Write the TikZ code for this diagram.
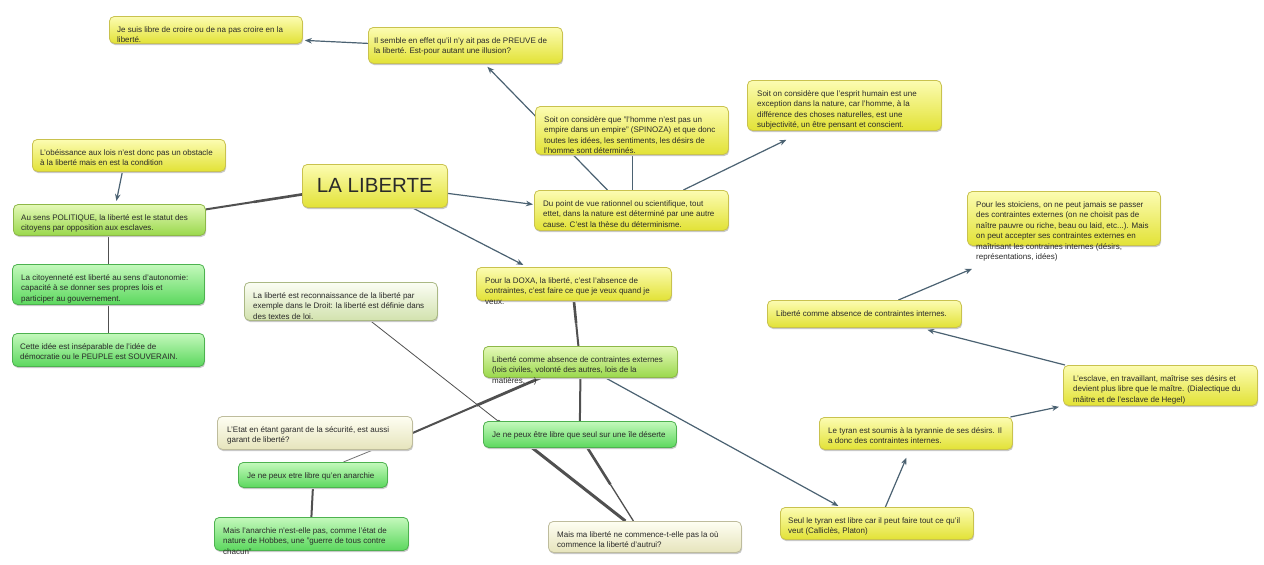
\documentclass[tikz,border=0pt]{standalone}
\usepackage{fontspec}
\setmainfont{Liberation Sans}
\usetikzlibrary{calc,arrows.meta,shadows}
\pgfdeclarelayer{bg}
\pgfsetlayers{bg,main}
\definecolor{yelT}{HTML}{FCFCB2}
\definecolor{yelBot}{HTML}{E2E236}
\definecolor{yelD}{HTML}{C9C24E}
\definecolor{gaT}{HTML}{E4F9B8}
\definecolor{gaBot}{HTML}{9AD84C}
\definecolor{gaD}{HTML}{8DB848}
\definecolor{gbT}{HTML}{C4F9BC}
\definecolor{gbBot}{HTML}{5CD85E}
\definecolor{gbD}{HTML}{4DB24F}
\definecolor{pgT}{HTML}{FBFDF4}
\definecolor{pgBot}{HTML}{D2E2AE}
\definecolor{pgD}{HTML}{AAB884}
\definecolor{crT}{HTML}{FEFEF2}
\definecolor{crBot}{HTML}{E6E4BC}
\definecolor{crD}{HTML}{BEBC9C}
\definecolor{arrC}{HTML}{4B6272}
\definecolor{lnC}{HTML}{505050}
\definecolor{txC}{HTML}{2A2A2A}
\definecolor{shC}{HTML}{C8C8C8}
\tikzset{
  box/.style={rounded corners=5pt, line width=0.8pt, inner sep=0pt,
    drop shadow={fill=shC, opacity=1, shadow xshift=0.8pt, shadow yshift=-1.6pt}},
  yel/.style={box, draw=yelD, top color=yelT, bottom color=yelBot},
  grA/.style={box, draw=gaD, top color=gaT, bottom color=gaBot},
  grB/.style={box, draw=gbD, top color=gbT, bottom color=gbBot},
  pgr/.style={box, draw=pgD, top color=pgT, bottom color=pgBot},
  crm/.style={box, draw=crD, top color=crT, bottom color=crBot},
  txt/.style={inner sep=0pt, align=left, text=txC, font=\fontsize{8}{10.5}\selectfont},
  arr/.style={draw=arrC, line width=1.2pt, -{Stealth[length=7pt,width=5.5pt]}},
  lnk/.style={draw=lnC, line width=1.6pt},
}
\newcommand\bx[8]{%
  \node[#2, minimum width={#5-#3}, minimum height={#6-#4}, anchor=north west] (#1) at (#3,#4) {};
  \node[txt, anchor=north west] at ([xshift=#7pt,yshift=-8.65pt]#1.north west) {\strut #8};
}
% connector thicker on the half near #1, thinner on the half near #2
\newcommand\taper[4]{%
  \coordinate (ta) at (#1);
  \coordinate (tb) at (#2);
  \coordinate (tm) at ($(ta)!0.5!(tb)$);
  \draw[lnC, line width=#4] (tm) -- (tb);
  \draw[lnC, line width=#3] (ta) -- (tm);
}
\begin{document}
\begin{tikzpicture}[x=1pt,y=-1pt]
\useasboundingbox (0,0) rectangle (1264,565);
\begin{pgfonlayer}{bg}
\fill[white] (0,0) rectangle (1264,565);
\end{pgfonlayer}

\bx{b1}{yel}{109}{16}{302}{43}{8}{Je suis libre de croire ou de na pas croire en la\\liberté.}
\bx{b2}{yel}{368}{27}{562}{63}{6}{Il semble en effet qu'il n'y ait pas de PREUVE de\\la liberté. Est-pour autant une illusion?}
\bx{b3}{yel}{535}{106}{728}{154}{9}{Soit on considère que "l'homme n'est pas un\\empire dans un empire" (SPINOZA) et que donc\\toutes les idées, les sentiments, les désirs de\\l'homme sont déterminés.}
\bx{b4}{yel}{747}{80}{941}{130}{10}{Soit on considère que l'esprit humain est une\\exception dans la nature, car l'homme, à la\\différence des choses naturelles, est une\\subjectivité, un être pensant et conscient.}
\bx{b5}{yel}{32}{139}{225}{171}{8}{L'obéissance aux lois n'est donc pas un obstacle\\à la liberté mais en est la condition}
\bx{b6}{grA}{13}{204}{205}{235}{8}{Au sens POLITIQUE, la liberté est le statut des\\citoyens par opposition aux esclaves.}
\bx{b7}{grB}{12}{264}{204}{304}{9}{La citoyenneté est liberté au sens d'autonomie:\\capacité à se donner ses propres lois et\\participer au gouvernement.}
\bx{b8}{grB}{12}{333}{204}{366}{8}{Cette idée est inséparable de l'idée de\\démocratie ou le PEUPLE est SOUVERAIN.}
\bx{b9}{pgr}{244}{282}{437}{320}{9}{La liberté est reconnaissance de la liberté par\\exemple dans le Droit: la liberté est définie dans\\des textes de loi.}
\node[yel, minimum width=145pt, minimum height=43pt, anchor=north west, font=\fontsize{20.5}{24}\selectfont, text=txC] (lib) at (302,164) {LA LIBERTE};
\bx{b10}{yel}{534}{190}{728}{230}{9}{Du point de vue rationnel ou scientifique, tout\\ettet, dans la nature est déterminé par une autre\\cause. C'est la thèse du déterminisme.}
\bx{b11}{yel}{476}{267}{671}{300}{9}{Pour la DOXA, la liberté, c'est l'absence de\\contraintes, c'est faire ce que je veux quand je\\veux.}
\bx{b12}{grA}{483}{346}{677}{377}{9}{Liberté comme absence de contraintes externes\\(lois civiles, volonté des autres, lois de la\\matières, ...)}
\bx{b13}{crm}{217}{416}{412}{449}{10}{L'Etat en étant garant de la sécurité, est aussi\\garant de liberté?}
\bx{b14}{grB}{238}{462}{387}{487}{9}{Je ne peux etre libre qu'en anarchie}
\bx{b15}{grB}{214}{517}{408}{550}{9}{Mais l'anarchie n'est-elle pas, comme l'état de\\nature de Hobbes, une "guerre de tous contre\\chacun"}
\bx{b16}{grB}{483}{421}{676}{447}{9}{Je ne peux être libre que seul sur une île déserte}
\bx{b17}{crm}{548}{521}{741}{552}{9}{Mais ma liberté ne commence-t-elle pas la où\\commence la liberté d'autrui?}
\bx{b18}{yel}{967}{191}{1160}{245}{9}{Pour les stoiciens, on ne peut jamais se passer\\des contraintes externes (on ne choisit pas de\\naître pauvre ou riche, beau ou laid, etc...). Mais\\on peut accepter ses contraintes externes en\\maîtrisant les contraines internes (désirs,\\représentations, idées)}
\bx{b19}{yel}{767}{300}{961}{327}{9}{Liberté comme absence de contraintes internes.}
\bx{b20}{yel}{1063}{365}{1257}{405}{10}{L'esclave, en travaillant, maîtrise ses désirs et\\devient plus libre que le maître. (Dialectique du\\mâitre et de l'esclave de Hegel)}
\bx{b21}{yel}{819}{417}{1012}{449}{9}{Le tyran est soumis à la tyrannie de ses désirs. Il\\a donc des contraintes internes.}
\bx{b22}{yel}{780}{507}{973}{539}{8}{Seul le tyran est libre car il peut faire tout ce qu'il\\veut (Calliclès, Platon)}

\begin{pgfonlayer}{bg}
\taper{[yshift=-8.5pt]lib.west}{[yshift=10.5pt]b6.east}{2.6pt}{2pt}
\draw[arr] ([yshift=-7.5pt]lib.east) -- ([xshift=-1pt,yshift=6pt]b10.west);
\draw[arr] ([xshift=37.5pt]lib.south) -- ([xshift=-50.5pt,yshift=2pt]b11.north);
\draw[arr] ([xshift=-6.5pt]b5.south) -- ([xshift=7pt,yshift=3pt]b6.north);
\draw[lnk, line width=1.5pt] ([xshift=-1pt]b6.south) -- (b7.north);
\draw[lnk, line width=1.5pt] (b7.south) -- (b8.north);
\draw[arr] ([xshift=-24pt]b10.north) -- ([xshift=22pt,yshift=-3pt]b2.south);
\draw[draw=arrC, line width=1.2pt] ([xshift=1pt]b10.north) -- ([xshift=0.5pt]b3.south);
\draw[arr] ([xshift=52pt]b10.north) -- ([xshift=-58pt,yshift=-9pt]b4.south);
\draw[arr] ([yshift=2pt]b2.west) -- ([xshift=2pt,yshift=-10.5pt]b1.east);
\taper{b11.south}{[xshift=-2pt]b12.north}{2.6pt}{2pt}
\draw[lnk, line width=2pt] (b12.south) -- (b16.north);
\taper{[xshift=-40pt]b12.south}{b13.east}{2.8pt}{2pt}
\draw[arr] ([xshift=25pt]b12.south) -- ([xshift=-38.5pt,yshift=1pt]b22.north);
\draw[lnk, line width=0.8pt, draw=lnC!80] ([xshift=58.5pt]b13.south) -- ([xshift=30.5pt]b14.north);
\draw[lnk, line width=2pt] (b14.south) -- (b15.north);
\taper{[xshift=7.5pt]b16.south}{[xshift=-11.5pt]b17.north}{2.6pt}{1.3pt}
\taper{[xshift=-19.5pt]b17.north}{[xshift=29.5pt]b9.south}{3pt}{0.8pt}
\draw[arr] ([xshift=8.5pt]b22.north) -- ([xshift=-9.5pt,yshift=-8pt]b21.south);
\draw[arr] ([xshift=94.5pt]b21.north) -- ([xshift=-4pt,yshift=-1pt]b20.south west);
\draw[arr] ([xshift=2pt]b20.north west) -- ([xshift=63pt,yshift=-2pt]b19.south);
\draw[arr] ([xshift=34pt]b19.north) -- ([xshift=5pt,yshift=-23pt]b18.south west);
\end{pgfonlayer}
\end{tikzpicture}
\end{document}
